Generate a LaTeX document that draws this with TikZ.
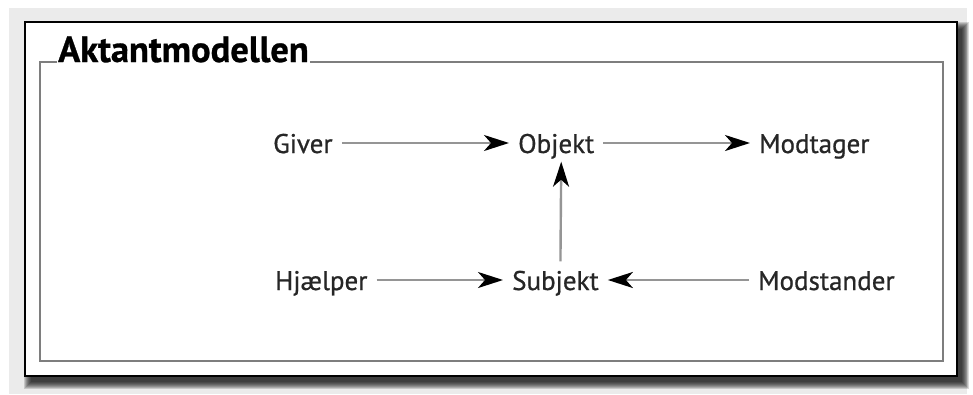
\documentclass[tikz,border=0pt]{standalone}
\usepackage{fontspec}
\setmainfont{PT Sans}
\newfontfamily\lblfont{PT Sans}[FakeBold=0.7]
\newfontfamily\ttlfont{PT Sans Bold}[FakeBold=0.8]
\usetikzlibrary{arrows.meta}
\definecolor{bggray}{HTML}{EBEBEB}
\definecolor{framegray}{HTML}{7E7E7E}
\definecolor{linegray}{HTML}{959595}
\tikzset{
  lbl/.style={anchor=base west, font=\lblfont\fontsize{27}{30}\selectfont, text=black!85,
    text height=22pt, text depth=2pt, inner xsep=9pt, inner ysep=6.5pt},
  conn/.style={draw=linegray, line width=2.4pt,
    -{Stealth[black, length=25pt, width=16pt, inset=7pt]}},
  ttl/.style={anchor=base west, font=\ttlfont\fontsize{36.5}{40}\selectfont,
    fill=white, inner sep=1pt}
}
\begin{document}
\begin{tikzpicture}[x=1pt,y=-1pt]
\useasboundingbox (0,0) rectangle (973,394);
% background
\fill[bggray] (9,8) rectangle (967,394);
% shadow
\foreach \r in {0,1,...,7}
  \fill[black,opacity=0.15] (31-\r,29-\r) rectangle (962+\r,382+\r);
% outer box
\draw[fill=white, line width=2.2pt, draw=black] (25,22) rectangle (957,376);
% inner frame
\draw[framegray, line width=1.6pt] (40,62) rectangle (943,361);
\node[ttl] (title) at (57,62) {Aktantmodellen};
% labels
\node[lbl] (giver)  at (264,153) {Giver};
\node[lbl] (objekt) at (509,153) {Objekt};
\node[lbl] (modtager) at (750,153) {Modtager};
\node[lbl] (hjaelper) at (266,290) {Hjælper};
\node[lbl] (subjekt) at (503,290) {Subjekt};
\node[lbl] (modstander) at (749,290) {Modstander};
% connectors
\draw[conn] (giver) -- (objekt);
\draw[conn] (objekt) -- (modtager);
\draw[conn] (hjaelper) -- (subjekt);
\draw[conn] (modstander) -- (subjekt);
\draw[conn] ([xshift=5pt]subjekt.north) -- ([xshift=5pt]objekt.south);
\end{tikzpicture}
\end{document}
